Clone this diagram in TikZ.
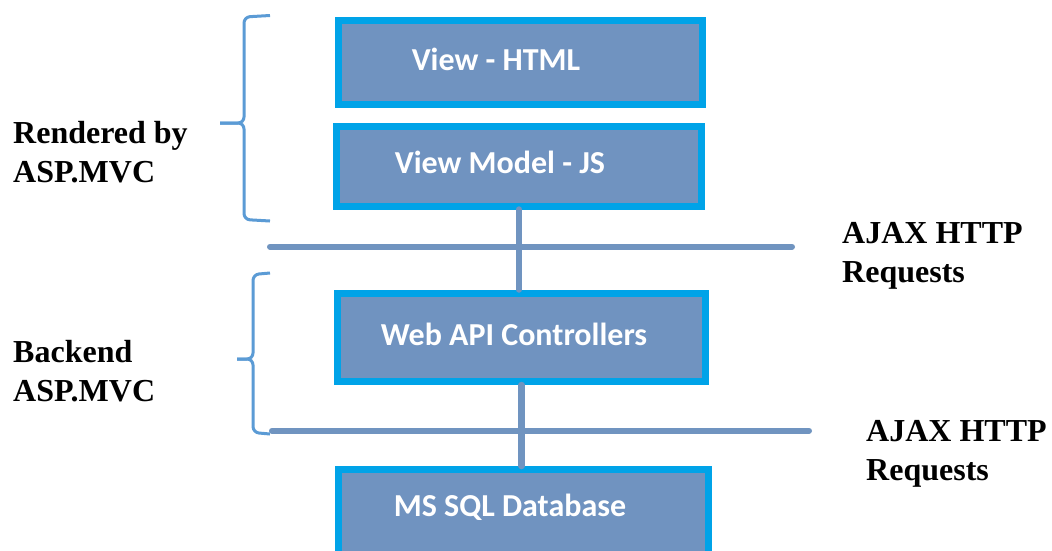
\documentclass[tikz,border=0pt]{standalone}
\usepackage{fontspec}
\setmainfont{Liberation Serif}
\newfontfamily\boxfont{Carlito}
\definecolor{boxborder}{HTML}{00A3E8}
\definecolor{boxfill}{HTML}{7093C0}
\definecolor{linecol}{HTML}{7094C0}
\definecolor{bracecol}{HTML}{5B9BD5}
\tikzset{
  layerbox/.style={draw=boxborder, fill=boxfill, line width=7pt, rectangle, inner sep=0pt},
  boxtext/.style={text=white, font=\boxfont\bfseries\fontsize{32}{38}\selectfont, inner sep=0pt, anchor=base},
  sidelabel/.style={font=\bfseries\fontsize{32}{39}\selectfont, inner sep=0pt, anchor=base west},
  conn/.style={draw=linecol, line width=6.5pt, line cap=round},
  divider/.style={draw=linecol, line width=6pt, line cap=round},
  bracestyle/.style={draw=bracecol, line width=3pt, rounded corners=6pt}
}
\begin{document}
\begin{tikzpicture}[x=1pt, y=-1pt]
\clip (0,0) rectangle (1052,550);
\fill[white] (0,0) rectangle (1052,550);

% boxes
\node[layerbox, minimum width=364pt, minimum height=84pt] (b1) at (520.5,62.5) {};
\node[layerbox, minimum width=365pt, minimum height=80pt] (b2) at (519,166) {};
\node[layerbox, minimum width=368pt, minimum height=88.5pt] (b3) at (521.5,337.25) {};
\node[layerbox, minimum width=370pt, minimum height=87pt] (b4) at (523.5,513) {};

% box texts
\node[boxtext] (t1) at (496,70) {View - HTML};
\node[boxtext] (t2) at (500,173) {View Model - JS};
\node[boxtext] (t3) at (514,345) {Web API Controllers};
\node[boxtext] (t4) at (510,516) {MS SQL Database};

% connectors
\draw[conn] (b2.south) -- (b2.south |- b3.north);
\draw[conn] (b3.south) -- (b3.south |- b4.north);

% dividers
\coordinate (h1a) at (270,246.7);
\coordinate (h1b) at (792,246.7);
\coordinate (h2a) at (272,430.7);
\coordinate (h2b) at (809,430.7);
\draw[divider] (h1a) -- (h1b);
\draw[divider] (h2a) -- (h2b);

% braces
\draw[bracestyle] (270,15.5) -- (244,17) -- (244,123) -- (220,123);
\draw[bracestyle] (270,221) -- (244,219.5) -- (244,123) -- (220,123);
\draw[bracestyle] (270,273) -- (253,274.5) -- (253,359) -- (237,359);
\draw[bracestyle] (270,434) -- (253,432.5) -- (253,359) -- (237,359);

% side labels
\node[sidelabel] (l1a) at (13,143) {Rendered by};
\node[sidelabel] (l1b) at (13,182) {ASP.MVC};
\node[sidelabel] (l2a) at (13,362) {Backend};
\node[sidelabel] (l2b) at (13,401) {ASP.MVC};
\node[sidelabel] (r1a) at (842,243) {AJAX HTTP};
\node[sidelabel] (r1b) at (842,282) {Requests};
\node[sidelabel] (r2a) at (866,441.7) {AJAX HTTP};
\node[sidelabel] (r2b) at (866,480) {Requests};
\end{tikzpicture}
\end{document}
